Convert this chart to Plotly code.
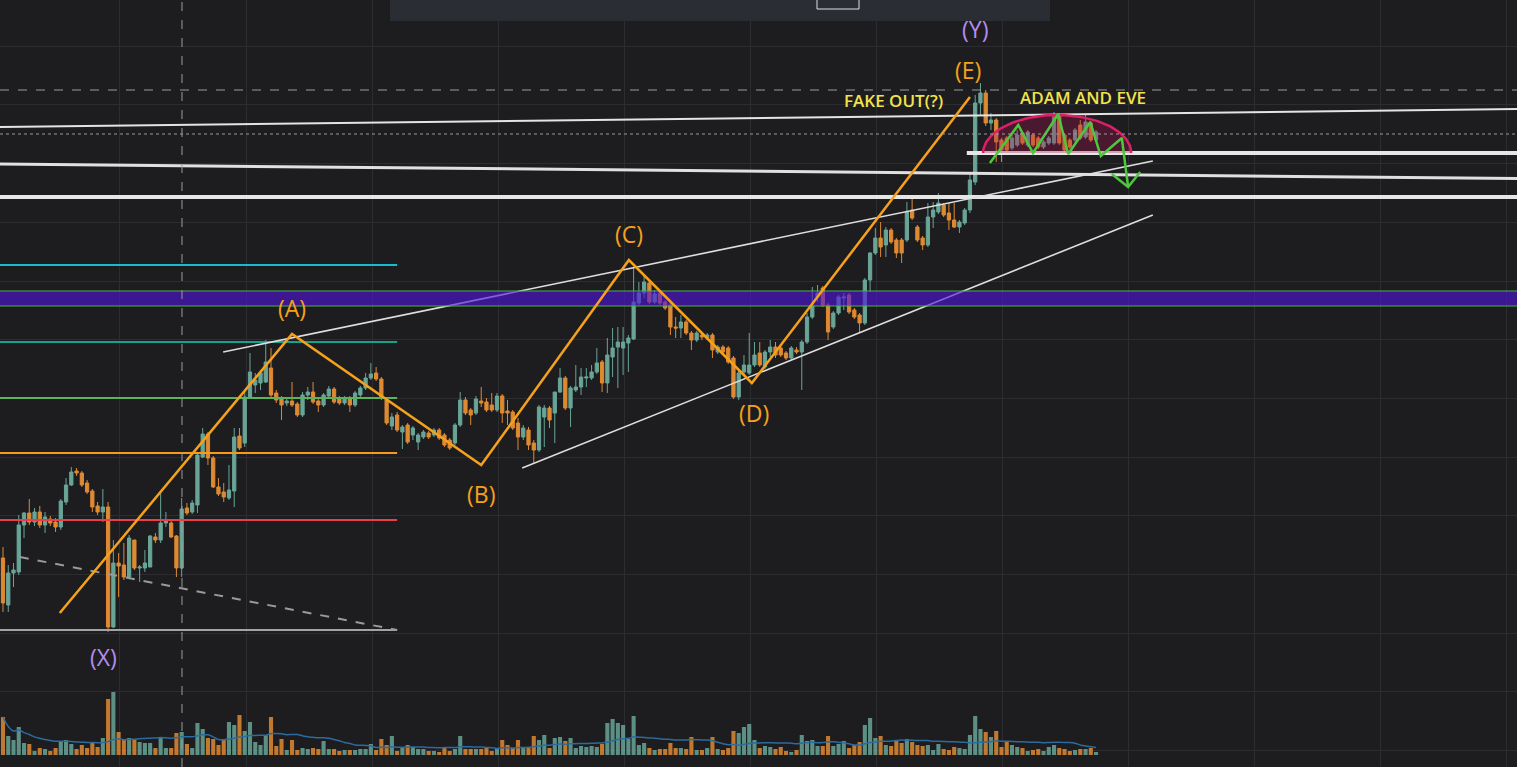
import numpy as np
import pandas as pd
import plotly.graph_objects as go

# ------------------------------------------------------------------ data
opens = [242,195,227,228,275,287,278,288,275,281,
         278,273,298,315,329,327,317,309,294,288,
         293,173,237,235,223,260,232,232,233,263,
         260,277,277,264,232,292,288,295,343,366,
         342,313,308,302,309,364,357,403,415,417,
         418,432,407,402,397,399,396,385,405,408,
         399,395,404,411,402,397,402,395,405,412,
         422,427,421,400,374,385,368,375,365,358,
         363,367,365,370,365,360,357,375,400,390,
         387,399,398,395,390,404,389,388,377,363,
         370,357,350,383,392,387,408,422,392,410,
         413,422,422,428,438,417,443,453,452,457,
         461,497,507,517,498,507,498,495,473,472,
         478,467,460,465,462,465,448,453,452,442,
         403,428,427,435,447,433,448,453,452,447,
         442,450,448,458,483,503,512,495,473,487,
         502,505,490,485,477,520,547,562,555,570,
         560,560,560,590,573,562,555,583,588,595,
         587,580,573,577,590,618,697,707,677,680,
         660,662,652,655,667,655,665,662,653,657,
         657,685,665,660,660,675,663,677,660]
highs = [253,235,237,285,288,301,292,294,288,284,
         282,301,322,333,332,329,320,311,298,311,
         298,260,247,257,265,260,235,250,265,267,
         308,288,280,265,302,297,300,347,372,368,
         344,322,317,335,372,372,408,447,427,430,
         460,452,410,404,402,418,398,408,413,418,
         402,407,414,413,404,404,404,409,414,427,
         437,433,423,402,387,388,375,377,374,367,
         370,369,372,372,367,362,377,408,403,392,
         404,413,402,407,407,406,400,390,382,375,
         373,360,395,395,394,408,432,424,414,435,
         432,432,435,452,440,462,472,473,473,465,
         533,518,525,519,510,509,500,497,483,485,
         480,469,469,467,467,467,455,455,454,444,
         429,445,467,458,458,450,460,458,454,449,
         454,453,460,487,513,515,514,497,489,505,
         507,507,492,487,522,548,572,578,573,572,
         562,562,598,605,575,564,597,598,607,597,
         597,597,580,592,627,705,717,710,687,682,
         662,664,667,670,669,670,667,664,660,664,
         688,687,667,662,672,680,685,679,670]
lows = [188,188,213,225,262,275,274,272,267,274,
        268,270,295,314,324,313,306,288,285,278,
        168,172,203,220,222,230,218,228,233,257,
        257,273,262,223,223,285,286,287,342,335,
        312,304,298,300,293,350,353,402,407,410,
        417,403,397,380,394,393,383,383,400,396,
        388,393,402,396,395,395,388,393,403,410,
        420,419,400,375,370,368,351,356,360,350,
        361,361,363,360,353,350,355,373,385,375,
        385,393,388,388,388,377,375,370,350,360,
        350,337,348,353,372,357,407,390,373,408,
        405,413,420,426,408,407,423,412,425,428,
        460,495,502,496,496,495,490,465,462,462,
        465,450,458,460,460,442,446,446,436,401,
        400,426,425,433,433,431,443,442,443,440,
        440,446,410,456,481,498,493,460,471,485,
        490,486,481,467,475,508,545,543,543,556,
        542,537,558,580,558,550,553,572,586,583,
        570,572,567,575,587,615,685,674,670,638,
        638,648,650,653,655,653,653,651,651,655,
        655,655,648,651,658,660,661,658,658]
closes = [197,227,230,275,287,278,288,275,283,277,
          273,299,315,328,327,315,308,293,288,293,
          173,237,234,223,262,232,233,237,264,260,
          277,280,263,232,291,287,297,345,366,342,
          313,306,303,310,363,352,403,428,420,427,
          438,405,400,395,399,395,385,405,408,398,
          395,405,411,398,397,402,395,407,412,422,
          426,421,402,377,383,370,373,358,372,365,
          368,363,370,362,355,352,375,400,387,385,
          401,397,390,390,404,387,387,372,363,372,
          355,350,393,392,380,408,422,392,412,413,
          423,423,428,437,417,445,452,458,458,462,
          498,507,518,498,506,497,492,473,472,478,
          467,460,467,463,465,450,453,448,438,403,
          427,435,435,445,435,448,453,445,445,442,
          452,448,458,483,495,507,495,468,487,503,
          503,488,483,477,520,547,562,553,570,558,
          547,547,588,582,560,555,583,590,597,585,
          580,573,578,590,620,697,707,677,680,658,
          650,650,662,665,657,668,655,653,658,662,
          683,657,650,653,670,662,678,660,668]
volumes = [38,19,15,28,12,11,4,7,6,4,
           7,13,15,11,6,10,7,12,8,17,
           56,63,23,15,17,16,13,12,12,7,
           17,7,7,22,23,11,7,32,26,17,
           16,10,16,33,30,40,24,33,13,10,
           20,38,9,16,5,15,5,7,6,7,
           6,14,6,6,4,5,5,5,6,6,
           11,5,16,10,19,4,8,10,8,6,
           6,4,4,3,8,4,6,19,6,6,
           6,6,7,4,7,15,10,7,15,8,
           8,19,15,20,7,17,18,14,17,7,
           9,8,9,8,
           11,32,36,32,30,16,39,10,12,7,
           5,6,6,12,7,7,6,18,5,5,
           7,18,6,5,7,24,22,28,31,15,
           7,9,8,6,8,4,3,5,20,14,
           15,9,9,19,9,11,14,7,10,13,
           30,37,17,19,10,9,14,12,16,13,
           10,9,10,5,11,6,5,8,7,6,
           20,39,26,23,18,24,8,13,10,8,
           7,4,5,6,4,8,10,7,6,4,
           5,6,6,7,3]

assert len(opens) == len(highs) == len(lows) == len(closes) == len(volumes)
bars = list(range(len(closes)))

# Elliott wave pivots (bar index, price)
wave_bar = [10.8, 55.0, 91.0, 119.1, 142.5, 184.0]
wave_price = [187, 466, 335, 540, 417, 703]

label_text = ["(X)", "(A)", "(B)", "(C)", "(D)", "(E)", "(Y)"]
label_bar = [19.2, 55.0, 91.0, 119.1, 142.9, 183.6, 185.0]
label_price = [143, 492, 306, 566, 387, 730, 771]

# horizontal levels on the left part
level_price = [535, 458, 402, 347, 280, 170]
level_end_bar = 75.0

# trend / channel lines
upper_channel_bar = [41.9, 218.8]
upper_channel_price = [448, 639]
lower_channel_bar = [98.8, 218.8]
lower_channel_price = [332, 585]
falling_dash_bar = [3.2, 75.0]
falling_dash_price = [243, 170]
resist_a_price = [673, 691]
resist_b_price = [636, 621.5]
support_price = 603
neckline_price = 647
neckline_start_bar = 183.4

band_price = [494, 509]

cross_bar = 34.06
cross_price = 710
last_price = 666

# Adam & Eve dome anchors
dome_left_bar, dome_top_bar, dome_right_bar = 186.5, 200.6, 214.7
dome_base_price, dome_top_price = 647, 685
zig_bar = [187.8, 193.2, 196.0, 200.8, 202.7, 206.9, 208.9, 212.9, 214.1]
zig_price = [637, 675, 647, 686, 646, 678, 644, 662, 613]
arrow_bar = [211.0, 214.1, 216.4]
arrow_price = [626, 613, 628]

fake_out_pos = (169.4, 700)
adam_eve_pos = (205.5, 703)

# ------------------------------------------------------------------ style
BG = "#1d1d20"
UP = "#69a597"
DN = "#de8a32"
ORANGE = "#f5a11c"
PURPLE = "#b48cf0"
WHITE = "#dedede"
YELLOW = "#f2e34a"
XL = [-0.571, 288.1]
YL = [33, 800]

fig = go.Figure()

vol_colors = [UP if c >= o else DN for o, c in zip(opens, closes)]
fig.add_trace(go.Bar(x=bars, y=volumes, yaxis="y2", marker_color=vol_colors,
                     marker_line_width=0, opacity=0.85, width=0.78, hoverinfo="skip"))
vol_ma = pd.Series(volumes).rolling(20, min_periods=1).mean()
fig.add_trace(go.Scatter(x=bars, y=vol_ma, yaxis="y2", mode="lines",
                         line=dict(color="#2b6b9e", width=1.5, shape="spline"), hoverinfo="skip"))

fig.add_trace(go.Candlestick(
    x=bars, open=opens, high=highs, low=lows, close=closes,
    increasing=dict(line=dict(color=UP, width=1), fillcolor=UP),
    decreasing=dict(line=dict(color=DN, width=1), fillcolor=DN),
    whiskerwidth=0, hoverinfo="skip"))

def seg(xs, ys, color, width, dash=None):
    fig.add_trace(go.Scatter(x=xs, y=ys, mode="lines",
                             line=dict(color=color, width=width, dash=dash),
                             hoverinfo="skip"))

level_colors = ["#18bcd0", "#16a08e", "#5cb35c", "#f79a1a", "#ea3e4c", "#a3a3a3"]
for p, c in zip(level_price, level_colors):
    seg([XL[0], level_end_bar], [p, p], c, 2.2)
seg(falling_dash_bar, falling_dash_price, "#9a9a9a", 2, "dash")

seg(XL, resist_a_price, "#e4e4e4", 2)
seg(XL, resist_b_price, "#e0e0e0", 3)
seg(XL, [support_price, support_price], "#e6e6e6", 4)
seg([neckline_start_bar, XL[1]], [neckline_price, neckline_price], "#e6e6e6", 4)
seg(upper_channel_bar, upper_channel_price, WHITE, 1.6)
seg(lower_channel_bar, lower_channel_price, WHITE, 1.6)

# purple band
fig.add_trace(go.Scatter(x=[XL[0] - 2, XL[1] + 2, XL[1] + 2, XL[0] - 2, XL[0] - 2],
                         y=[band_price[0], band_price[0], band_price[1], band_price[1], band_price[0]],
                         mode="lines", fill="toself", fillcolor="rgba(78,20,215,0.62)",
                         line=dict(color="#4caf50", width=1), hoverinfo="skip"))

# dome
t = np.linspace(0, np.pi, 80)
a = (dome_right_bar - dome_left_bar) / 2
b = dome_top_price - dome_base_price
dx = dome_left_bar + a + a * np.cos(t)
dy = dome_base_price + b * np.sin(t)
fig.add_trace(go.Scatter(x=list(dx) + [dx[0]], y=list(dy) + [dy[0]], mode="lines",
                         fill="toself", fillcolor="rgba(175,20,80,0.32)",
                         line=dict(width=0), hoverinfo="skip"))
fig.add_trace(go.Scatter(x=dx, y=dy, mode="lines",
                         line=dict(color="#dc1f66", width=2.5), hoverinfo="skip"))
seg(zig_bar, zig_price, "#4cc83c", 2.5)
seg(arrow_bar, arrow_price, "#4cc83c", 2.5)

# Elliott wave
seg(wave_bar, wave_price, ORANGE, 2.5)

for txt, xb, yp in zip(label_text, label_bar, label_price):
    col = PURPLE if txt in ("(X)", "(Y)") else ORANGE
    fig.add_annotation(x=xb, y=yp, text=txt, showarrow=False,
                       font=dict(family="Open Sans", size=23, color=col),
                       xanchor="center", yanchor="middle")
fig.add_annotation(x=fake_out_pos[0], y=fake_out_pos[1], text="FAKE OUT(?)", showarrow=False,
                   font=dict(family="Open Sans", size=17, color=YELLOW, weight=600))
fig.add_annotation(x=adam_eve_pos[0], y=adam_eve_pos[1], text="ADAM AND EVE", showarrow=False,
                   font=dict(family="Open Sans", size=17, color=YELLOW, weight=600))

shapes = [
    dict(type="line", xref="x", yref="paper", x0=cross_bar, x1=cross_bar, y0=0, y1=1,
         line=dict(color="#9c9c9c", width=1, dash="dash"), layer="above"),
    dict(type="line", xref="paper", yref="y", x0=0, x1=1, y0=cross_price, y1=cross_price,
         line=dict(color="#9c9c9c", width=1, dash="dash"), layer="above"),
    dict(type="line", xref="paper", yref="y", x0=0, x1=1, y0=last_price, y1=last_price,
         line=dict(color="#9a9a9a", width=1, dash="dot"), layer="above"),
    dict(type="rect", xref="paper", yref="paper", x0=390 / 1517, x1=1050 / 1517,
         y0=1 - 21 / 767, y1=1.01, fillcolor="#2a2d33", line=dict(width=0), layer="above"),
    dict(type="rect", xref="paper", yref="paper", x0=817 / 1517, x1=859 / 1517,
         y0=1 - 9 / 767, y1=1.01, fillcolor="#2a2d33", line=dict(color="#e0e0e0", width=1),
         layer="above"),
]

fig.update_layout(
    width=1517, height=767, margin=dict(l=0, r=0, t=0, b=0),
    paper_bgcolor=BG, plot_bgcolor=BG, showlegend=False, hovermode=False,
    shapes=shapes,
    xaxis=dict(range=XL, showticklabels=False, zeroline=False, showgrid=True,
               gridcolor="#2c2c31", gridwidth=1, tickmode="linear", tick0=22.26, dtick=23.98,
               rangeslider=dict(visible=False), fixedrange=True),
    yaxis=dict(range=YL, showticklabels=False, zeroline=False, showgrid=True,
               gridcolor="#2c2c31", gridwidth=1, tickmode="linear", tick0=519, dtick=58.67,
               fixedrange=True),
    yaxis2=dict(range=[-12, 755], overlaying="y", showticklabels=False, showgrid=False,
                zeroline=False, fixedrange=True),
    bargap=0.2,
    boxgap=0.12,
)

fig.write_html("out.html")
